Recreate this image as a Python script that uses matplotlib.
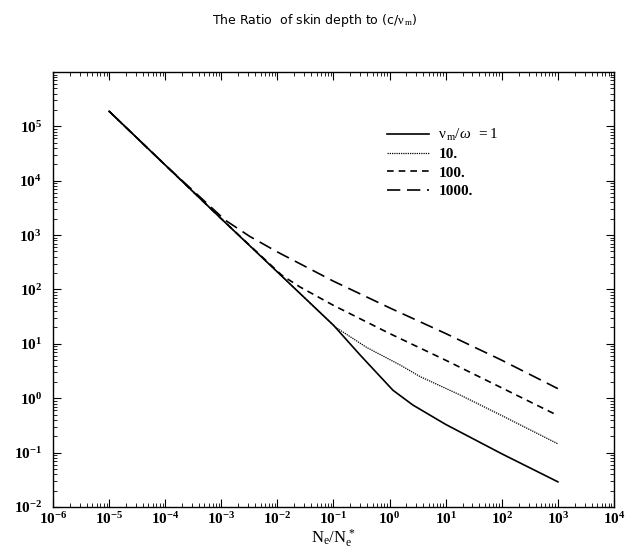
import matplotlib
matplotlib.use("Agg")
import matplotlib.pyplot as plt
from matplotlib.ticker import LogLocator, FuncFormatter, NullFormatter
import numpy as np

plt.rcParams['mathtext.fontset'] = 'custom'
plt.rcParams['mathtext.rm'] = 'Liberation Serif'
plt.rcParams['mathtext.bf'] = 'Liberation Serif:bold'
plt.rcParams['mathtext.it'] = 'Liberation Serif:italic'

# N_e/N_e* and skin depth ratio
x_1 = [1e-5, 1e-4, 1e-3, 1e-2, 1e-1, 0.3, 1.15, 2.6, 7.0, 10.0, 100.0, 1000.0]
y_1 = [1.9e5, 1.95e4, 2.0e3, 2.1e2, 22.0, 6.2, 1.4, 0.75, 0.41, 0.33, 0.095, 0.029]

x_10 = [1e-5, 1e-4, 1e-3, 1e-2, 0.107, 0.39, 1.53, 3.5, 18.0, 100.0, 1000.0]
y_10 = [1.9e5, 1.95e4, 2.0e3, 2.1e2, 20.5, 8.6, 4.1, 2.5, 1.15, 0.48, 0.145]

x_100 = [1e-5, 1e-4, 1e-3, 0.0119, 0.025, 0.1, 1.0, 10.0, 100.0, 1000.0]
y_100 = [1.9e5, 1.95e4, 2.0e3, 184.0, 112.0, 51.0, 15.5, 5.0, 1.55, 0.48]

x_1000 = [1e-5, 1e-4, 0.00117, 0.0032, 0.01, 0.1, 1.0, 10.0, 100.0, 1000.0]
y_1000 = [1.9e5, 1.95e4, 1890.0, 950.0, 490.0, 142.0, 46.0, 15.5, 5.0, 1.5]

labels = [r"$\mathrm{\nu}_{\,\rm m}/\omega\;\; = 1$", "10.", "100.", "1000."]
x_decades = list(range(-6, 5))
y_decades = list(range(-2, 6))

fig = plt.figure(figsize=(6.3, 5.51), dpi=100)
ax = fig.add_axes([0.0841, 0.0799, 0.8905, 0.7894])

ax.plot(x_1, y_1, color='black', lw=1.2, label=labels[0])
ax.plot(x_10, y_10, color='black', lw=0.9, linestyle=(0, (1, 0.8)), label=labels[1])
ax.plot(x_100, y_100, color='black', lw=1.2, linestyle=(0, (4, 3)), label=labels[2])
ax.plot(x_1000, y_1000, color='black', lw=1.2, linestyle=(0, (8, 4)), label=labels[3])

ax.set_xscale('log')
ax.set_yscale('log')
ax.set_xlim(1e-6, 1e4)
ax.set_ylim(1e-2, 1e6)

ax.set_xticks([10.0**k for k in x_decades])
ax.set_xticklabels([r"$\mathbf{10^{%d}}$" % k for k in x_decades])
ax.set_yticks([10.0**k for k in y_decades])
ax.set_yticklabels([r"$\mathbf{10^{%d}}$" % k for k in y_decades])
ax.xaxis.set_minor_locator(LogLocator(base=10, subs=np.arange(2, 10), numticks=20))
ax.yaxis.set_minor_locator(LogLocator(base=10, subs=np.arange(2, 10), numticks=20))
ax.xaxis.set_minor_formatter(NullFormatter())
ax.yaxis.set_minor_formatter(NullFormatter())
ax.tick_params(which='both', direction='in', top=True, right=True, labelsize=11)
ax.tick_params(which='major', length=6, width=0.8)
ax.tick_params(which='minor', length=3, width=0.6)
ax.tick_params(axis='x', pad=3)
ax.tick_params(axis='y', pad=8)

for s in ax.spines.values():
    s.set_linewidth(1.0)

ax.set_xlabel(r"$\mathrm{N_e/N_e^{\,*}}$", fontsize=12, labelpad=0)

leg = ax.legend(loc='upper left', bbox_to_anchor=(0.57, 0.905), frameon=False,
                handlelength=2.8, handletextpad=0.6, labelspacing=0.3,
                prop={'family': 'Liberation Serif', 'weight': 'bold', 'size': 11})

fig.text(0.5, 0.962, r"The Ratio  of skin depth to (c/$\mathrm{\nu}_{\,\rm m}$)", ha='center',
         va='center', fontsize=9, family='DejaVu Sans')

fig.savefig("out.png", dpi=100)
